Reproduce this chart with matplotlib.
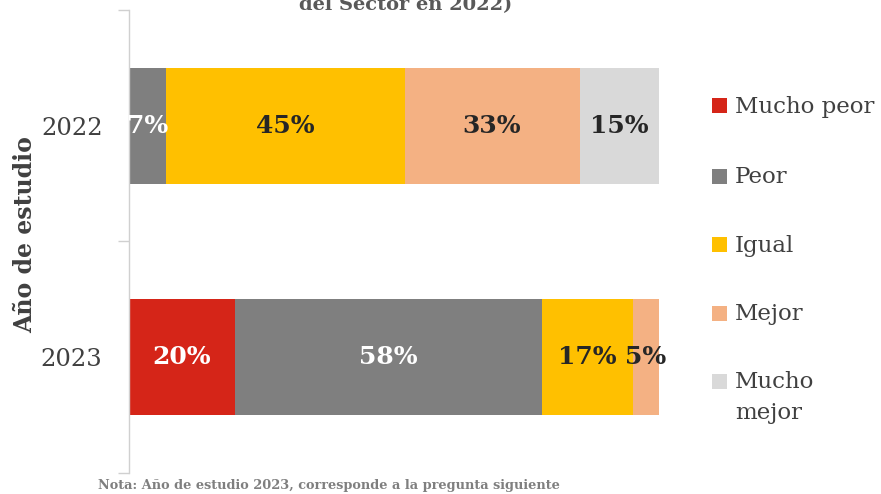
import matplotlib
matplotlib.use("Agg")
import matplotlib.pyplot as plt
from matplotlib.patches import Rectangle

years = ["2022", "2023"]
categories = ["Mucho peor", "Peor", "Igual", "Mejor", "Mucho\nmejor"]
values = {
    "Mucho peor": [0, 20],
    "Peor": [7, 58],
    "Igual": [45, 17],
    "Mejor": [33, 5],
    "Mucho\nmejor": [15, 0],
}
colors = ["#D52518", "#7F7F7F", "#FFC000", "#F4B183", "#D9D9D9"]
label_colors = ["white", "white", "#262626", "#262626", "#262626"]

plt.rcParams["font.family"] = ["DejaVu Serif"]

W, H = 881, 494
fig = plt.figure(figsize=(W / 100, H / 100), dpi=100)
ax = fig.add_axes([129 / W, 1 - 473 / H, 530 / W, 463 / H])

ypos = list(range(len(years)))
left = [0] * len(years)
for cat, col, tcol in zip(categories, colors, label_colors):
    vals = values[cat]
    ax.barh(ypos, vals, left=left, height=0.5, color=col, edgecolor="none", label=cat)
    for i, v in enumerate(vals):
        if v > 0:
            ax.text(left[i] + v / 2, ypos[i], f"{v}%", ha="center", va="center",
                    color=tcol, fontsize=18, fontweight="bold")
    left = [l + v for l, v in zip(left, vals)]

ax.set_xlim(0, 100)
ax.set_ylim(1.5, -0.5)
ax.set_yticks(ypos)
ax.set_yticklabels(years, fontsize=17.5, color="#404040")
ax.set_yticks([-0.5, 0.5, 1.5], minor=True)
ax.tick_params(axis="y", which="major", length=0, pad=19)
ax.tick_params(axis="y", which="minor", length=8, color="#D0D0D0", width=1)
ax.set_xticks([])
for s in ["top", "right", "bottom"]:
    ax.spines[s].set_visible(False)
ax.spines["left"].set_color("#D0D0D0")
ax.spines["left"].set_linewidth(1)

fig.text(25 / W, 1 - 235 / H, "Año de estudio", rotation=90, ha="center",
         va="center", fontsize=17, fontweight="bold", color="#404040")

fig.text(406 / W, 1 - 10 / H, "del Sector en 2022)", ha="center", va="baseline",
         fontsize=14, fontweight="bold", color="#595959")

fig.text(98 / W, 1 - 489 / H, "Nota: Año de estudio 2023, corresponde a la pregunta siguiente",
         ha="left", va="baseline", fontsize=9.3, fontweight="bold", color="#7F7F7F")

# Legend (manual layout to mimic the reference)
entry_y = [106, 176, 245, 313, 381]
for cat, col, yc in zip(categories, colors, entry_y):
    fig.patches.append(Rectangle((712 / W, 1 - (yc + 7.5) / H), 15 / W, 15 / H,
                                 transform=fig.transFigure, facecolor=col,
                                 edgecolor="none"))
    fig.text(735 / W, 1 - (yc - 10) / H, cat, ha="left", va="top",
             fontsize=16.5, color="#404040", linespacing=1.5)

fig.savefig("out.png", dpi=100)
